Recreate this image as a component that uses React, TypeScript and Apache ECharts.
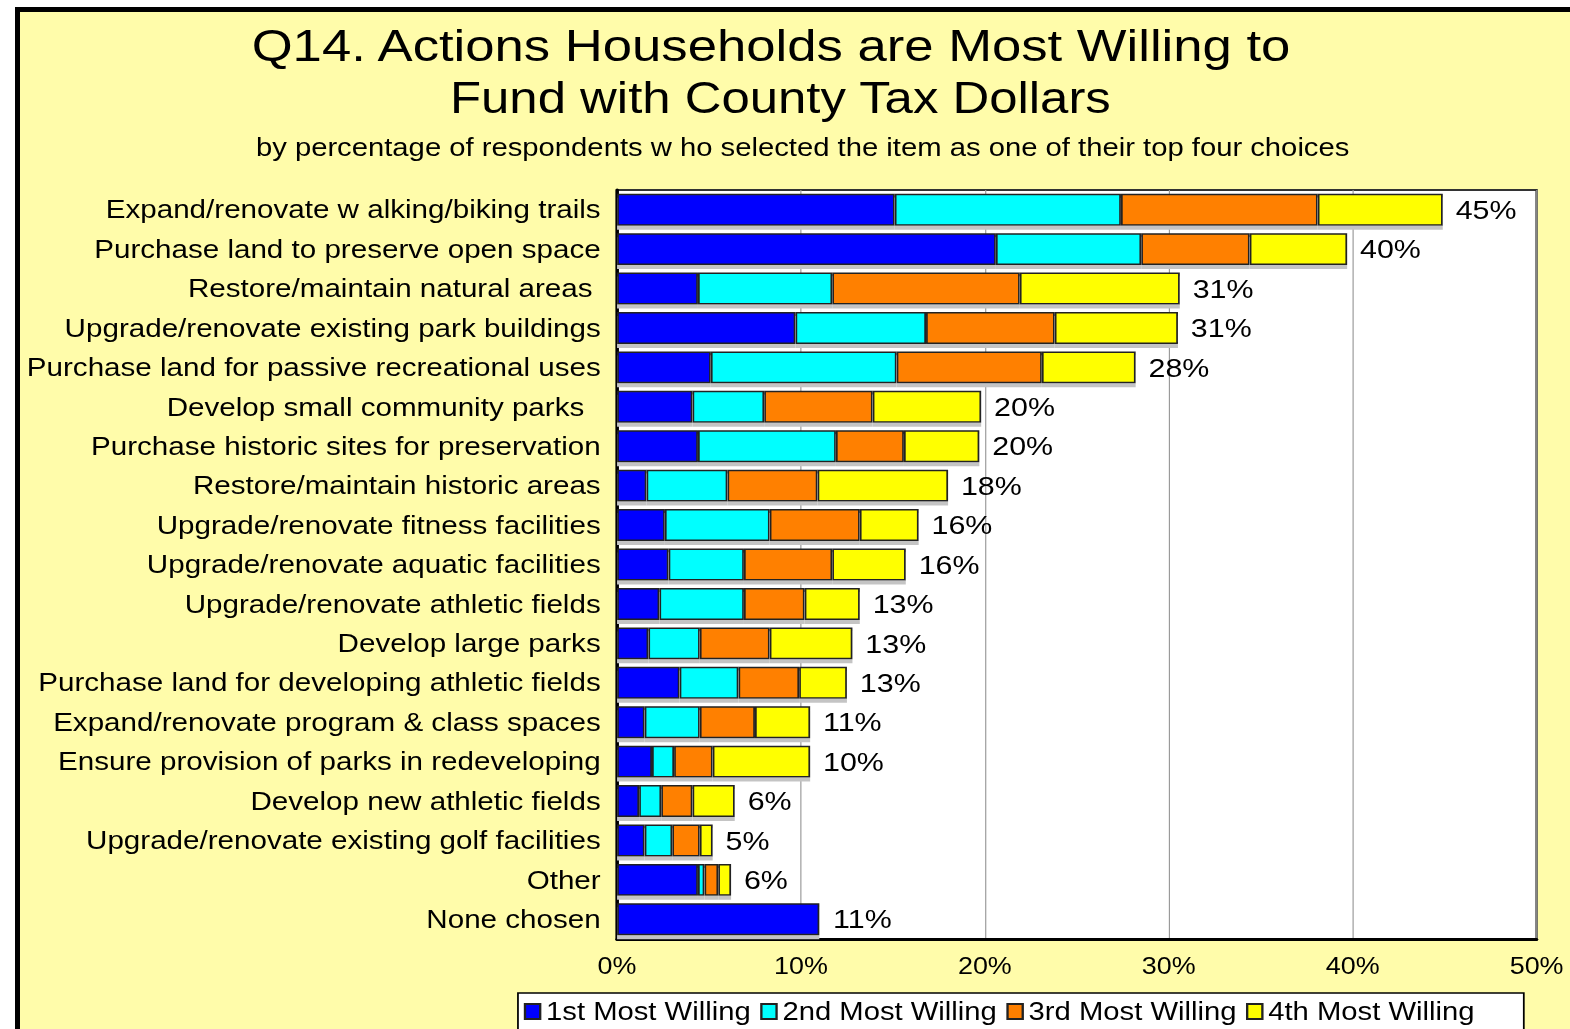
import React, { useEffect, useRef } from "react";
import * as echarts from "echarts";

const categories = [
  "Expand/renovate w alking/biking trails",
  "Purchase land to preserve open space",
  "Restore/maintain natural areas ",
  "Upgrade/renovate existing park buildings",
  "Purchase land for passive recreational uses",
  "Develop small community parks  ",
  "Purchase historic sites for preservation",
  "Restore/maintain historic areas",
  "Upgrade/renovate fitness facilities",
  "Upgrade/renovate aquatic facilities",
  "Upgrade/renovate athletic fields",
  "Develop large parks",
  "Purchase land for developing athletic fields",
  "Expand/renovate program & class spaces",
  "Ensure provision of parks in redeveloping",
  "Develop new athletic fields",
  "Upgrade/renovate existing golf facilities",
  "Other",
  "None chosen",
];

const first = [15.1, 20.6, 4.4, 9.7, 5.1, 4.1, 4.4, 1.6, 2.6, 2.8, 2.3, 1.7, 3.4, 1.5, 1.9, 1.2, 1.5, 4.4, 11.0];
const second = [12.3, 7.9, 7.3, 7.1, 10.1, 3.9, 7.5, 4.4, 5.7, 4.1, 4.6, 2.8, 3.2, 3.0, 1.2, 1.2, 1.5, 0.35, 0];
const third = [10.7, 5.9, 10.2, 7.0, 7.9, 5.9, 3.7, 4.9, 4.9, 4.8, 3.3, 3.8, 3.3, 3.0, 2.1, 1.7, 1.5, 0.75, 0];
const fourth = [6.8, 5.3, 8.7, 6.7, 5.1, 5.9, 4.1, 7.1, 3.2, 4.0, 3.0, 4.5, 2.6, 3.0, 5.3, 2.3, 0.7, 0.7, 0];
const totals = [45, 40, 31, 31, 28, 20, 20, 18, 16, 16, 13, 13, 13, 11, 10, 6, 5, 6, 11];

const seriesNames = ["1st Most Willing", "2nd Most Willing", "3rd Most Willing", "4th Most Willing"];
const seriesColors = ["#0000FF", "#00FFFF", "#FF8000", "#FFFF00"];

const titleLine1 = "Q14. Actions Households are Most Willing to";
const titleLine2 = "Fund with County Tax Dollars";
const subtitle = "by percentage of respondents w ho selected the item as one of their top four choices";

const S = 1.17;
const W = 1570 / S;
const H = 1029;
const FONT = "'Liberation Sans', Arial, Helvetica, sans-serif";

export default function App() {
  const ref = useRef<HTMLDivElement>(null);

  useEffect(() => {
    if (!ref.current) return;
    const chart = echarts.init(ref.current, null, { renderer: "svg" });
    const values = [first, second, third, fourth];
    const series = values.map((arr, i) => ({
      name: seriesNames[i],
      type: "bar",
      stack: "total",
      data: arr,
      barCategoryGap: "19%",
      itemStyle: {
        color: seriesColors[i],
        borderColor: "#222",
        borderWidth: 1.5,
        shadowColor: "#c4c4c4",
        shadowOffsetY: 4,
        shadowOffsetX: 0,
        shadowBlur: 1,
      },
      label:
        i === 3
          ? {
              show: true,
              position: "right",
              distance: 11,
              formatter: (p: any) => totals[p.dataIndex] + "%",
              fontSize: 26,
              fontFamily: FONT,
              color: "#000",
            }
          : { show: false },
      emphasis: { disabled: true },
    }));

    chart.setOption({
      animation: false,
      backgroundColor: "transparent",
      textStyle: { fontFamily: FONT },
      graphic: [
        {
          type: "text",
          x: 659,
          y: 45,
          style: {
            text: titleLine1,
            fontSize: 45,
            fontFamily: FONT,
            fill: "#000",
            align: "center",
            verticalAlign: "middle",
          },
        },
        {
          type: "text",
          x: 667,
          y: 98,
          style: {
            text: titleLine2,
            fontSize: 43.5,
            fontFamily: FONT,
            fill: "#000",
            align: "center",
            verticalAlign: "middle",
          },
        },
        {
          type: "text",
          x: 686,
          y: 147,
          style: {
            text: subtitle,
            fontSize: 25,
            fontFamily: FONT,
            fill: "#000",
            align: "center",
            verticalAlign: "middle",
          },
        },
      ],
      legend: {
        data: seriesNames,
        left: 442.7,
        top: 993,
        orient: "horizontal",
        padding: [6, 42, 8, 5],
        itemGap: 8,
        itemWidth: 13,
        itemHeight: 15,
        icon: "rect",
        selectedMode: false,
        backgroundColor: "#fff",
        borderColor: "#000",
        borderWidth: 1.5,
        textStyle: { fontSize: 25, color: "#000", fontFamily: FONT },
      },
      grid: {
        left: 527.4,
        right: W - 1313.2,
        top: 190,
        bottom: H - 939,
        show: true,
        backgroundColor: "#fff",
        borderColor: "#333",
        borderWidth: 2,
      },
      xAxis: {
        type: "value",
        min: 0,
        max: 50,
        interval: 10,
        axisLabel: {
          formatter: "{value}%",
          fontSize: 23,
          color: "#000",
          margin: 15,
          fontFamily: FONT,
        },
        axisLine: { show: true, lineStyle: { color: "#000", width: 3 } },
        axisTick: { show: false },
        splitLine: { show: true, lineStyle: { color: "#9a9a9a", width: 1 } },
      },
      yAxis: {
        type: "category",
        inverse: true,
        data: categories,
        axisLabel: {
          fontSize: 25.3,
          color: "#000",
          margin: 14,
          fontFamily: FONT,
        },
        axisLine: { show: true, lineStyle: { color: "#000", width: 3 } },
        axisTick: { show: false },
        splitLine: { show: false },
      },
      series,
    });
    return () => chart.dispose();
  }, []);

  return (
    <div
      style={{
        position: "fixed",
        left: 0,
        top: 0,
        width: 1570,
        height: H,
        background: "#fff",
        overflow: "hidden",
      }}
    >
      <div
        style={{
          position: "absolute",
          left: 15,
          top: 7,
          right: 0,
          bottom: 0,
          background: "#FFFCAA",
          borderLeft: "5px solid #000",
          borderTop: "5px solid #000",
        }}
      />
      <div
        ref={ref}
        style={{
          position: "absolute",
          left: 0,
          top: 0,
          width: W,
          height: H,
          transform: `scaleX(${S})`,
          transformOrigin: "0 0",
        }}
      />
    </div>
  );
}
